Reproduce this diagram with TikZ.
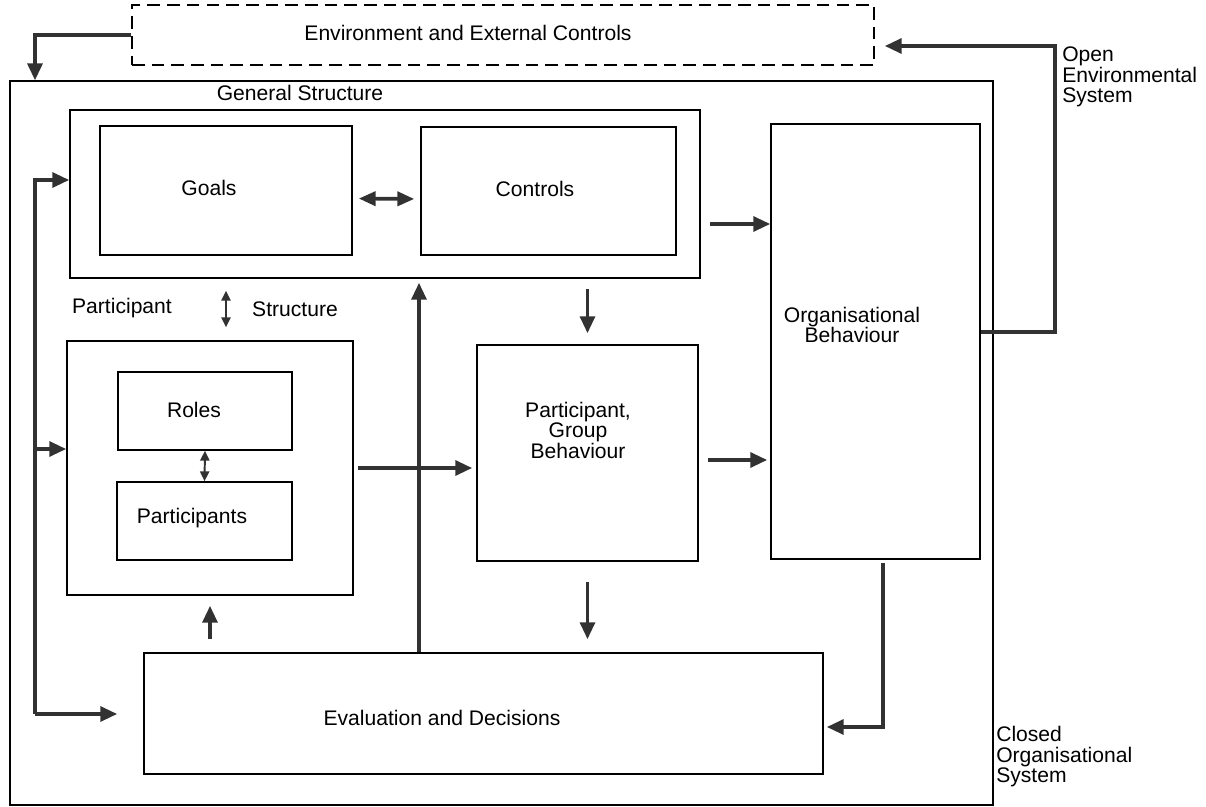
\documentclass[tikz,border=0pt]{standalone}
\usepackage{fontspec}
\setmainfont{Liberation Sans}
\usepackage{tikz}
\usetikzlibrary{arrows.meta}
\usetikzlibrary{fit,calc}
\definecolor{inkgray}{RGB}{50,50,50}
\tikzset{
  box/.style={draw=black, line width=1.1pt, inner sep=0pt},
  lbl/.style={font=\fontsize{15}{14.6}\selectfont, align=center, inner sep=0pt},
  flow/.style={draw=inkgray, line width=2.6pt, -{Triangle[length=12pt,width=10.5pt]}},
  twoway/.style={draw=inkgray, line width=2.6pt, {Triangle[length=12pt,width=10pt]}-{Triangle[length=12pt,width=10pt]}},
  thinway/.style={draw=inkgray, line width=1.4pt, {Triangle[length=7pt,width=6.5pt]}-{Triangle[length=7pt,width=6.5pt]}},
}
\begin{document}
\begin{tikzpicture}[x=0.025cm, y=-0.025cm]
\useasboundingbox (0,0) rectangle (1206,807);
% boxes
\node[box, dash pattern=on 9pt off 5pt, fit={(132,5) (874,65)}] (env) {};
\node[box, line width=0.9pt, fit={(10,81) (993,805)}] (outer) {};
\node[box, fit={(70,110) (700,278)}] (gs) {};
\node[box, fit={(100,126) (352,255)}] (goals) {};
\node[box, fit={(421,127) (676,255)}] (controls) {};
\node[box, fit={(771,124) (980,559)}] (org) {};
\node[box, fit={(67,341) (353,595)}] (part) {};
\node[box, fit={(118,372) (292,450)}] (roles) {};
\node[box, fit={(117,482) (292,560)}] (parts) {};
\node[box, fit={(477,345) (698,561)}] (pgb) {};
\node[box, fit={(144,653) (823,774)}] (eval) {};
% texts
\node[lbl] (envtxt) at (468,33) {Environment and External Controls};
\node[lbl] (gstxt) at (300,93) {General Structure};
\node[lbl] (goalstxt) at (209,188) {Goals};
\node[lbl] (ctrltxt) at (535,189) {Controls};
\node[lbl] (orgtxt) at (852,325) {Organisational\\Behaviour};
\node[lbl, anchor=west, align=left] (opentxt) at (1062,77) {Open\\Environmental\\System};
\node[lbl] (ptxt) at (122,308) {Participant};
\node[lbl] (stxt) at (295,309) {Structure};
\node[lbl] (rolestxt) at (194,410) {Roles};
\node[lbl] (partstxt) at (192,518) {Participants};
\node[lbl] (pgbtxt) at (578,430) {Participant,\\Group\\Behaviour};
\node[lbl] (evaltxt) at (442,718) {Evaluation and Decisions};
\node[lbl, anchor=west, align=left] (closedtxt) at (996,757) {Closed\\Organisational\\System};
% lanes of the feedback lines
\coordinate (leftlane) at (35,0);
\coordinate (uplane) at (419,0);
\coordinate (pslane) at (226,0);
\coordinate (openlane) at (1055,0);
\coordinate (lanetop) at (35,180);
\coordinate (lanemid) at (35,449);
\coordinate (lanebot) at (35,714);
\coordinate (rightlane) at (883,727);
\coordinate (openout) at ($(org.east)+(0,-9.5)$);
\coordinate (openin) at ($(env.east)+(0,11)$);
\coordinate (ctrlout) at ($(gs.east)+(0,30)$);
\coordinate (pgbout) at ($(pgb.east)+(0,7)$);
% connectors
\draw[flow] (env.west) -| (outer.north -| leftlane);
\draw[flow, shorten >=0.25cm] (openout) -- (openout -| openlane) -- (openin -| openlane) -- (openin);
\draw[flow] (lanebot) -- (lanetop) -- (lanetop -| gs.west);
\draw[flow] (lanemid) -- (lanemid -| part.west);
\draw[flow, shorten >=0.65cm] (lanebot) -- (lanebot -| eval.west);
\draw[twoway, shorten <=0.15cm, shorten >=0.15cm] ($(goals.east)+(0,8)$) -- ($(controls.west)+(0,8)$);
\draw[flow, shorten <=0.225cm] (ctrlout) -- (ctrlout -| org.west);
\draw[flow, shorten <=0.25cm, shorten >=0.275cm] (gs.south -| pgb.north) -- (pgb.north);
\draw[flow, shorten <=0.5cm, shorten >=0.325cm] (pgb.south) -- (pgb.south |- eval.north);
\draw[flow, shorten >=0.1cm] (eval.north -| uplane) -- (gs.south -| uplane);
\draw[flow, shorten <=0.1cm, shorten >=0.1cm] (part.east) -- (part.east -| pgb.west);
\draw[flow, shorten <=0.225cm, shorten >=0.075cm] (pgbout) -- (pgbout -| org.west);
\draw[flow, shorten <=0.075cm, shorten >=0.075cm] (org.south -| rightlane) -- (rightlane) -- (rightlane -| eval.east);
\draw[flow, shorten <=0.325cm, shorten >=0.25cm] (eval.north -| part.south) -- (part.south);
\draw[thinway, shorten <=0.3cm, shorten >=0.325cm] (gs.south -| pslane) -- (part.north -| pslane);
\draw[thinway] (roles.south) -- (parts.north);
\end{tikzpicture}
\end{document}
